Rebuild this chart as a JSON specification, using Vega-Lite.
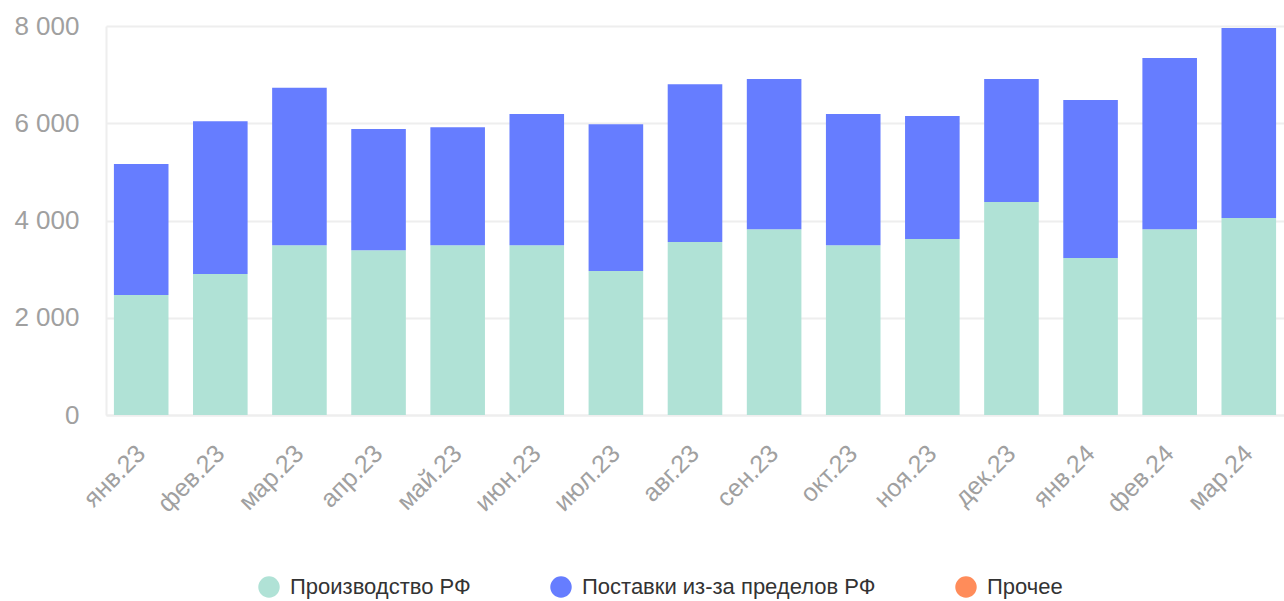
{
  "$schema": "https://vega.github.io/schema/vega-lite/v6.json",
  "width": 1178,
  "height": 389,
  "autosize": {"type": "none"},
  "padding": {"left": 106, "top": 26, "right": 0, "bottom": 186},
  "background": "white",
  "data": {
    "values": [
      {"m": "янв.23", "s": "Производство РФ", "k": 1, "v": 2470},
      {"m": "янв.23", "s": "Поставки из-за пределов РФ", "k": 2, "v": 2690},
      {"m": "янв.23", "s": "Прочее", "k": 3, "v": 0},
      {"m": "фев.23", "s": "Производство РФ", "k": 1, "v": 2900},
      {"m": "фев.23", "s": "Поставки из-за пределов РФ", "k": 2, "v": 3140},
      {"m": "фев.23", "s": "Прочее", "k": 3, "v": 0},
      {"m": "мар.23", "s": "Производство РФ", "k": 1, "v": 3490},
      {"m": "мар.23", "s": "Поставки из-за пределов РФ", "k": 2, "v": 3240},
      {"m": "мар.23", "s": "Прочее", "k": 3, "v": 0},
      {"m": "апр.23", "s": "Производство РФ", "k": 1, "v": 3390},
      {"m": "апр.23", "s": "Поставки из-за пределов РФ", "k": 2, "v": 2490},
      {"m": "апр.23", "s": "Прочее", "k": 3, "v": 0},
      {"m": "май.23", "s": "Производство РФ", "k": 1, "v": 3490},
      {"m": "май.23", "s": "Поставки из-за пределов РФ", "k": 2, "v": 2430},
      {"m": "май.23", "s": "Прочее", "k": 3, "v": 0},
      {"m": "июн.23", "s": "Производство РФ", "k": 1, "v": 3490},
      {"m": "июн.23", "s": "Поставки из-за пределов РФ", "k": 2, "v": 2700},
      {"m": "июн.23", "s": "Прочее", "k": 3, "v": 0},
      {"m": "июл.23", "s": "Производство РФ", "k": 1, "v": 2960},
      {"m": "июл.23", "s": "Поставки из-за пределов РФ", "k": 2, "v": 3020},
      {"m": "июл.23", "s": "Прочее", "k": 3, "v": 0},
      {"m": "авг.23", "s": "Производство РФ", "k": 1, "v": 3560},
      {"m": "авг.23", "s": "Поставки из-за пределов РФ", "k": 2, "v": 3240},
      {"m": "авг.23", "s": "Прочее", "k": 3, "v": 0},
      {"m": "сен.23", "s": "Производство РФ", "k": 1, "v": 3820},
      {"m": "сен.23", "s": "Поставки из-за пределов РФ", "k": 2, "v": 3090},
      {"m": "сен.23", "s": "Прочее", "k": 3, "v": 0},
      {"m": "окт.23", "s": "Производство РФ", "k": 1, "v": 3490},
      {"m": "окт.23", "s": "Поставки из-за пределов РФ", "k": 2, "v": 2700},
      {"m": "окт.23", "s": "Прочее", "k": 3, "v": 0},
      {"m": "ноя.23", "s": "Производство РФ", "k": 1, "v": 3620},
      {"m": "ноя.23", "s": "Поставки из-за пределов РФ", "k": 2, "v": 2530},
      {"m": "ноя.23", "s": "Прочее", "k": 3, "v": 0},
      {"m": "дек.23", "s": "Производство РФ", "k": 1, "v": 4380},
      {"m": "дек.23", "s": "Поставки из-за пределов РФ", "k": 2, "v": 2530},
      {"m": "дек.23", "s": "Прочее", "k": 3, "v": 0},
      {"m": "янв.24", "s": "Производство РФ", "k": 1, "v": 3230},
      {"m": "янв.24", "s": "Поставки из-за пределов РФ", "k": 2, "v": 3250},
      {"m": "янв.24", "s": "Прочее", "k": 3, "v": 0},
      {"m": "фев.24", "s": "Производство РФ", "k": 1, "v": 3820},
      {"m": "фев.24", "s": "Поставки из-за пределов РФ", "k": 2, "v": 3520},
      {"m": "фев.24", "s": "Прочее", "k": 3, "v": 0},
      {"m": "мар.24", "s": "Производство РФ", "k": 1, "v": 4050},
      {"m": "мар.24", "s": "Поставки из-за пределов РФ", "k": 2, "v": 3910},
      {"m": "мар.24", "s": "Прочее", "k": 3, "v": 0}
    ]
  },
  "mark": {"type": "bar"},
  "encoding": {
    "x": {
      "field": "m",
      "type": "nominal",
      "sort": null,
      "title": null,
      "scale": {"paddingInner": 0.31, "paddingOuter": 0.1},
      "axis": {
        "labelAngle": -45,
        "labelAlign": "right",
        "labelBaseline": "middle",
        "labelFont": "Liberation Sans",
        "labelFontSize": 25,
        "labelColor": "#a0a0a0",
        "labelPadding": 34,
        "labelDx": 8,
        "ticks": false,
        "domainColor": "#eeeeee",
        "domainWidth": 2,
        "grid": false
      }
    },
    "y": {
      "field": "v",
      "type": "quantitative",
      "stack": "zero",
      "title": null,
      "scale": {"domain": [0, 8000], "nice": false},
      "axis": {
        "values": [0, 2000, 4000, 6000, 8000],
        "labelExpr": "replace(format(datum.value, ','), ',', ' ')",
        "labelFont": "Liberation Sans",
        "labelFontSize": 26,
        "labelColor": "#a0a0a0",
        "labelPadding": 27,
        "ticks": false,
        "domainColor": "#eeeeee",
        "domainWidth": 2,
        "gridColor": "#eeeeee",
        "gridWidth": 2
      }
    },
    "color": {
      "field": "s",
      "type": "nominal",
      "sort": ["Производство РФ", "Поставки из-за пределов РФ", "Прочее"],
      "scale": {
        "domain": ["Производство РФ", "Поставки из-за пределов РФ", "Прочее"],
        "range": ["#b0e2d6", "#667dff", "#ff8c5a"]
      },
      "legend": {
        "title": null,
        "orient": "none",
        "legendX": 152,
        "legendY": 550,
        "direction": "horizontal",
        "symbolType": "circle",
        "symbolSize": 460,
        "symbolStrokeWidth": 0,
        "labelFont": "Liberation Sans",
        "labelFontSize": 22,
        "labelColor": "#333333",
        "labelOffset": 10,
        "columnPadding": 79,
        "padding": 0,
        "labelLimit": 400
      }
    },
    "order": {"field": "k", "type": "quantitative"}
  },
  "config": {
    "view": {"stroke": null},
    "axis": {"gridDash": []}
  }
}
